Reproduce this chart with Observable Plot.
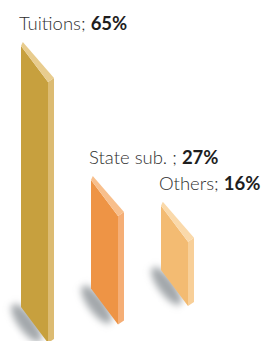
<!DOCTYPE html>
<html><head><meta charset="utf-8">
<script src="https://cdn.jsdelivr.net/npm/d3@7"></script>
<script src="https://cdn.jsdelivr.net/npm/@observablehq/plot@0.6"></script>
<style>html,body{margin:0;padding:0;background:#fff}#chart svg{display:block}</style>
</head><body><div id="chart"></div>
<script>
const categories = ["Tuitions", "State sub. ", "Others"];
const shares = [65, 27, 16];
const valueLabels = ["65%", "27%", "16%"];
const frontColors = ["#c7a03e", "#ee9445", "#f3bb72"];
const sideColors = ["#dcbb72", "#f5ae76", "#f8cf98"];
const topColors = ["#e8cc8e", "#f8bf8c", "#fad9aa"];

const data = categories.map((c, i) => ({category: c, share: shares[i], label: valueLabels[i], i}));
const NS = "http://www.w3.org/2000/svg";
function el(tag, attrs, parent) {
  const e = document.createElementNS(NS, tag);
  for (const k in attrs) e.setAttribute(k, attrs[k]);
  if (parent) parent.appendChild(e);
  return e;
}
const pts = a => a.map(p => p.join(",")).join(" ");

function board(index, scales, values) {
  const g = el("g", {});
  const defs = el("defs", {}, g);
  const f = el("filter", {id: "shadowBlur", x: "-50%", y: "-50%", width: "200%", height: "200%"}, defs);
  el("feGaussianBlur", {stdDeviation: 3.5}, f);
  const W = 27, S = 36, DX = 6, DY = -4, floor = 0.264;
  const x0 = scales.x(categories[0]);
  const y0 = scales.y(0);
  for (const i of index) {
    const d = data[i];
    const xl = scales.x(d.category);
    const base = y0 - floor * (xl - x0);
    const top = base - (y0 - scales.y(d.share));
    // shadow
    const ang = Math.atan2(S, W) * 180 / Math.PI;
    const cx = xl + W / 2 - 8, cy = base + S / 2 - 2;
    el("ellipse", {cx, cy, rx: 23, ry: 8, fill: "#8c9196", "fill-opacity": 0.8,
      transform: `rotate(${ang} ${cx} ${cy})`, filter: "url(#shadowBlur)"}, g);
    // front
    el("polygon", {points: pts([[xl, top], [xl + W, top + S], [xl + W, base + S], [xl, base]]), fill: frontColors[i]}, g);
    // side
    el("polygon", {points: pts([[xl + W, top + S], [xl + W + DX, top + S + DY], [xl + W + DX, base + S + DY], [xl + W, base + S]]), fill: sideColors[i]}, g);
    // top
    el("polygon", {points: pts([[xl, top], [xl + DX * 0.3, top + DY], [xl + W + DX, top + S + DY], [xl + W, top + S]]), fill: topColors[i]}, g);
    // label
    const t = el("text", {x: xl - 2, y: top - 16, "text-anchor": "start", "font-family": "Lato, 'Noto Sans', sans-serif", "font-size": 18.5, "font-weight": 300, fill: "#2e2e2e"}, g);
    const t1 = el("tspan", {}, t); t1.textContent = d.category + "; ";
    const t2 = el("tspan", {"font-weight": "bold", fill: "#1e1e1e"}, t); t2.textContent = d.label;
  }
  return g;
}

const chart = Plot.plot({
  width: 278, height: 341,
  marginTop: 0, marginRight: 0, marginBottom: 0, marginLeft: 0,
  x: {type: "point", domain: categories, range: [21, 161], padding: 0, axis: null},
  y: {domain: [0, 65], range: [307, 46], axis: null},
  marks: [
    Plot.dot(data, {x: "category", y: "share", render: board})
  ]
});
document.getElementById("chart").appendChild(chart);
</script>
</body></html>
